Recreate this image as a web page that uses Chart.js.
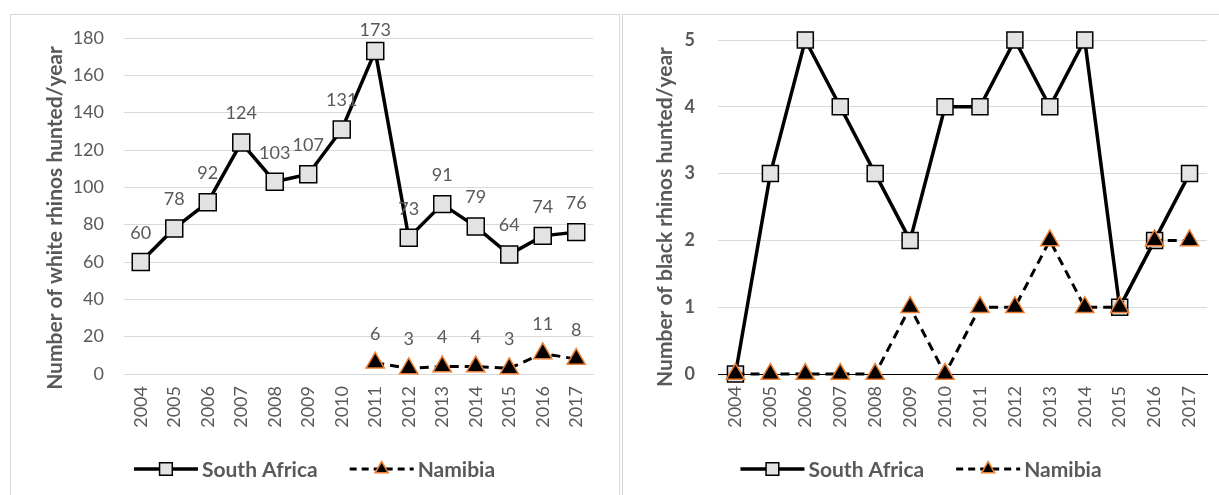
<!DOCTYPE html>
<html>
<head>
<meta charset="utf-8">
<script src="https://cdn.jsdelivr.net/npm/chart.js@4/dist/chart.umd.min.js"></script>
<style>
  html, body { margin: 0; padding: 0; background: #fff; width: 1219px; height: 495px; overflow: hidden; }
  .panel { position: absolute; border: 1px solid #d9d9d9; box-sizing: border-box; background: #fff; }
  #p1 { left: 10px; top: 14px; width: 610px; height: 520px; }
  #p2 { left: 622px; top: 14px; width: 620px; height: 520px; }
  canvas { position: absolute; }
  #c1 { left: 11px; top: 15px; }
  #c2 { left: 623px; top: 15px; }
</style>
</head>
<body>
<div class="panel" id="p1"></div>
<div class="panel" id="p2"></div>
<canvas id="c1" width="607" height="480" style="width:607px;height:480px"></canvas>
<canvas id="c2" width="596" height="480" style="width:596px;height:480px"></canvas>
<script>
// ---- Data ----
const years = ['2004','2005','2006','2007','2008','2009','2010','2011','2012','2013','2014','2015','2016','2017'];
const whiteSouthAfrica = [60, 78, 92, 124, 103, 107, 131, 173, 73, 91, 79, 64, 74, 76];
const whiteNamibia = [null, null, null, null, null, null, null, 6, 3, 4, 4, 3, 11, 8];
const blackSouthAfrica = [0, 3, 5, 4, 3, 2, 4, 4, 5, 4, 5, 1, 2, 3];
const blackNamibia = [0, 0, 0, 0, 0, 1, 0, 1, 1, 2, 1, 1, 2, 2];
const seriesNames = ['South Africa', 'Namibia'];
const whiteTitle = 'Number of white rhinos hunted/year';
const blackTitle = 'Number of black rhinos hunted/year';

const FONT = 'Lato, "Open Sans", sans-serif';
const GREY = '#595959';
const ORANGE = '#ed7d31';
const SQFILL = '#e3e3e3';

function saDataset(data, radius) {
  return {
    label: seriesNames[0], data: data, order: 2, clip: false,
    borderColor: '#000', borderWidth: 3.5, tension: 0,
    pointStyle: 'rect', pointRadius: radius, pointHoverRadius: radius,
    pointBackgroundColor: SQFILL, pointBorderColor: '#000', pointBorderWidth: 1.5,
    spanGaps: false
  };
}
function naDataset(data, radius) {
  return {
    label: seriesNames[1], data: data, order: 1, clip: false,
    borderColor: '#000', borderWidth: 3, borderDash: [9, 6], tension: 0,
    pointStyle: 'triangle', pointRadius: radius, pointHoverRadius: radius,
    pointBackgroundColor: '#000', pointBorderColor: ORANGE, pointBorderWidth: 1.5,
    spanGaps: false
  };
}

const dataLabelPlugin = {
  id: 'dataLabels',
  afterDatasetsDraw(chart, args, opts) {
    if (!opts || !opts.show) return;
    const ctx = chart.ctx;
    ctx.save();
    ctx.font = '18px ' + FONT;
    ctx.fillStyle = GREY;
    ctx.textAlign = 'center';
    ctx.textBaseline = 'middle';
    chart.data.datasets.forEach((ds, i) => {
      const meta = chart.getDatasetMeta(i);
      meta.data.forEach((pt, j) => {
        const v = ds.data[j];
        if (v === null || v === undefined) return;
        let y = pt.y - 29;
        y = Math.max(y, chart.chartArea.top - 8);
        ctx.fillText(String(v), pt.x, y);
      });
    });
    ctx.restore();
  }
};

const axisTitlePlugin = {
  id: 'axisTitle',
  afterDraw(chart, args, opts) {
    const ctx = chart.ctx;
    const ca = chart.chartArea;
    ctx.save();
    ctx.font = 'bold 21px ' + FONT;
    ctx.fillStyle = GREY;
    ctx.textAlign = 'center';
    ctx.textBaseline = 'middle';
    ctx.translate(opts.x, (ca.top + ca.bottom) / 2 + opts.dy);
    ctx.rotate(-Math.PI / 2);
    ctx.fillText(opts.text, 0, 0);
    ctx.restore();
  }
};

const legendPlugin = {
  id: 'customLegend',
  afterDraw(chart, args, opts) {
    const ctx = chart.ctx;
    ctx.save();
    ctx.font = 'bold 21px ' + FONT;
    const lineLen = 64, gapText = 4, gapEntry = 32;
    const ds = chart.data.datasets;
    const widths = ds.map(d => ctx.measureText(d.label).width);
    let total = 0;
    widths.forEach((w, i) => { total += lineLen + gapText + w + (i < widths.length - 1 ? gapEntry : 0); });
    let x = (chart.width - total) / 2;
    const y = opts.y;
    ds.forEach((d, i) => {
      ctx.save();
      ctx.strokeStyle = '#000';
      ctx.lineWidth = d.borderWidth;
      ctx.setLineDash(d.borderDash ? [7, 5] : []);
      ctx.beginPath();
      ctx.moveTo(x, y); ctx.lineTo(x + lineLen, y);
      ctx.stroke();
      ctx.restore();
      ctx.save();
      ctx.fillStyle = d.pointBackgroundColor;
      ctx.strokeStyle = d.pointBorderColor;
      ctx.lineWidth = d.pointBorderWidth;
      Chart.helpers.drawPoint(ctx, {
        pointStyle: d.pointStyle, radius: d.pointStyle === 'rect' ? 9 : 7.5, rotation: 0,
        borderWidth: d.pointBorderWidth
      }, x + lineLen / 2, y);
      ctx.restore();
      ctx.fillStyle = GREY;
      ctx.textAlign = 'left';
      ctx.textBaseline = 'middle';
      ctx.fillText(d.label, x + lineLen + gapText, y + 1);
      x += lineLen + gapText + widths[i] + gapEntry;
    });
    ctx.restore();
  }
};

function makeChart(id, cfg) {
  return new Chart(document.getElementById(id), {
    type: 'line',
    data: { labels: years, datasets: cfg.datasets },
    options: {
      responsive: false, animation: false, devicePixelRatio: 1,
      layout: { autoPadding: false, padding: { left: 0, right: cfg.padRight, top: cfg.padTop, bottom: 0 } },
      plugins: {
        legend: { display: false }, tooltip: { enabled: false },
        dataLabels: { show: cfg.labels },
        customLegend: { y: 454 },
        axisTitle: { text: cfg.title, x: cfg.titleX, dy: cfg.titleDy }
      },
      scales: {
        x: {
          type: 'category', offset: true,
          grid: { display: false, drawTicks: false },
          border: { display: true, color: cfg.axisColor, width: 1 },
          ticks: { color: GREY, font: { family: FONT, size: 18 }, maxRotation: 90, minRotation: 90, padding: 12, autoSkip: false },
          afterFit(scale) { scale.height = 121; scale.paddingLeft = 0; scale.paddingRight = 0; }
        },
        y: {
          min: 0, max: cfg.max,
          ticks: { stepSize: cfg.step, color: GREY, padding: cfg.tickPad, font: { family: FONT, size: 18, weight: cfg.tickBold ? 'bold' : 'normal' } },
          grid: { color: '#d9d9d9', lineWidth: 1, drawTicks: false },
          border: { display: false },
          title: { display: false },
          afterFit(scale) { scale.width = cfg.yWidth; scale.paddingTop = 0; scale.paddingBottom = 0; }
        }
      }
    },
    plugins: [dataLabelPlugin, axisTitlePlugin, legendPlugin]
  });
}

makeChart('c1', {
  datasets: [saDataset(whiteSouthAfrica, 12), naDataset(whiteNamibia, 10.5)],
  max: 180, step: 20, title: whiteTitle, yWidth: 113, padRight: 25, padTop: 23,
  tickPad: 20, titleX: 44, titleDy: 12, tickBold: false, labels: true, axisColor: '#d9d9d9'
});
makeChart('c2', {
  datasets: [saDataset(blackSouthAfrica, 11.3), naDataset(blackNamibia, 10.5)],
  max: 5, step: 1, title: blackTitle, yWidth: 95, padRight: 12, padTop: 25,
  tickPad: 23, titleX: 42, titleDy: 10, tickBold: true, labels: false, axisColor: '#000'
});
</script>
</body>
</html>
